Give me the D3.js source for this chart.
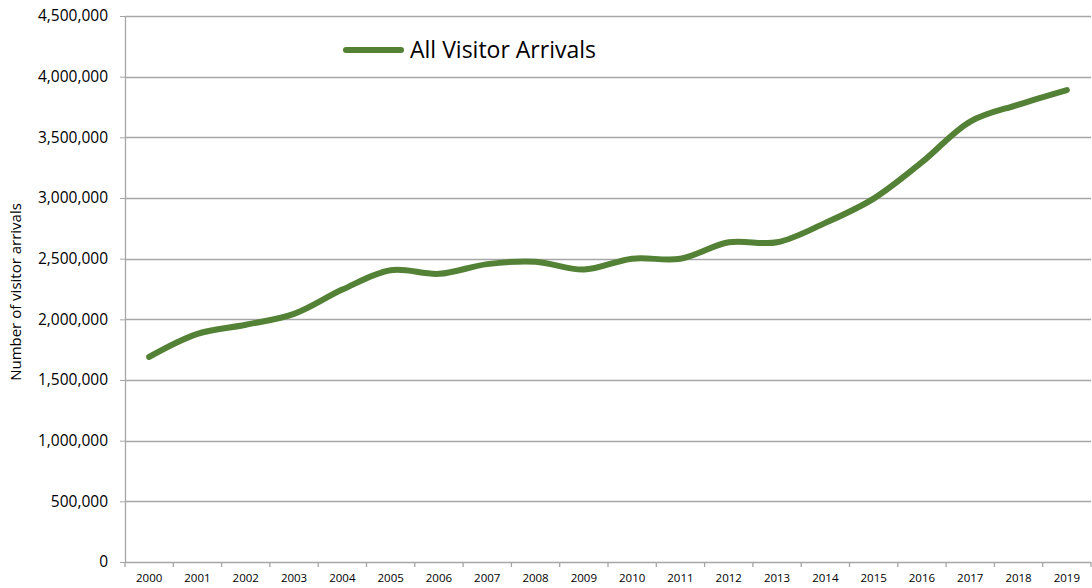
<!DOCTYPE html>
<html>
<head>
<meta charset="utf-8">
<script src="https://cdn.jsdelivr.net/npm/d3@7"></script>
<style>
  body { margin: 0; background: #fff; }
  text { font-family: "Open Sans", "Liberation Sans", sans-serif; fill: #000; }
</style>
</head>
<body>
<svg id="chart" width="1092" height="588"></svg>
<script>
const years = ["2000", "2001", "2002", "2003", "2004", "2005", "2006", "2007", "2008", "2009",
  "2010", "2011", "2012", "2013", "2014", "2015", "2016", "2017", "2018", "2019"];
const arrivals = [1690000, 1880000, 1955000, 2045000, 2245000, 2405000, 2375000, 2455000, 2475000, 2410000,
  2500000, 2500000, 2635000, 2635000, 2795000, 2995000, 3295000, 3630000, 3770000, 3890000];
const yTicks = [0, 500000, 1000000, 1500000, 2000000, 2500000, 3000000, 3500000, 4000000, 4500000];
const seriesName = "All Visitor Arrivals";

const svg = d3.select("#chart");
const margin = { left: 125, right: 1, top: 16, bottom: 26 };
const width = 1092, height = 588;
const lineColor = "#538135";
const gridColor = "#a6a6a6";

const x = d3.scaleBand().domain(years).range([margin.left, width - margin.right]);
const y = d3.scaleLinear().domain([0, 4500000]).range([height - margin.bottom, margin.top]);

// y ticks and labels
const yAxis = svg.append("g")
  .attr("transform", `translate(${margin.left},0)`)
  .call(d3.axisLeft(y).tickValues(yTicks).tickSize(5).tickPadding(12).tickFormat(d3.format(",")));
yAxis.select(".domain").remove();
yAxis.selectAll("line").attr("stroke", gridColor);
yAxis.selectAll("text").style("font-size", "15.5px");

// horizontal gridlines
svg.append("g").selectAll("line")
  .data(yTicks)
  .join("line")
  .attr("x1", margin.left)
  .attr("x2", width - margin.right)
  .attr("y1", d => Math.round(y(d)) + 0.5)
  .attr("y2", d => Math.round(y(d)) + 0.5)
  .attr("stroke", gridColor)
  .attr("stroke-width", 1.3);

// y axis line
svg.append("line")
  .attr("x1", margin.left + 0.5).attr("x2", margin.left + 0.5)
  .attr("y1", margin.top).attr("y2", y(0))
  .attr("stroke", gridColor).attr("stroke-width", 1.3);

// x axis: ticks between categories
const xg = svg.append("g").attr("transform", `translate(0,${y(0)})`);
xg.selectAll("line")
  .data(years.concat(["end"]))
  .join("line")
  .attr("x1", (d, i) => i < years.length ? x(d) : x.range()[1])
  .attr("x2", (d, i) => i < years.length ? x(d) : x.range()[1])
  .attr("y1", 0).attr("y2", 5)
  .attr("stroke", gridColor).attr("stroke-width", 1.3);
xg.selectAll("text")
  .data(years)
  .join("text")
  .attr("x", d => x(d) + x.bandwidth() / 2)
  .attr("y", 20)
  .attr("text-anchor", "middle")
  .style("font-size", "11.5px")
  .text(d => d);

// y axis title
svg.append("text")
  .attr("transform", `translate(21,${(margin.top + y(0)) / 2 + 3}) rotate(-90)`)
  .attr("text-anchor", "middle")
  .style("font-size", "15px")
  .text("Number of visitor arrivals");

// the series
const line = d3.line()
  .x((d, i) => x(years[i]) + x.bandwidth() / 2)
  .y(d => y(d))
  .curve(d3.curveCatmullRom.alpha(0.5));

svg.append("path")
  .datum(arrivals)
  .attr("d", line)
  .attr("fill", "none")
  .attr("stroke", lineColor)
  .attr("stroke-width", 6)
  .attr("stroke-linecap", "round")
  .attr("stroke-linejoin", "round");

// legend
const lg = svg.append("g").attr("transform", "translate(346,50)");
lg.append("line")
  .attr("x1", 0).attr("x2", 55)
  .attr("stroke", lineColor).attr("stroke-width", 6).attr("stroke-linecap", "round");
lg.append("text")
  .attr("x", 64).attr("y", 8)
  .style("font-size", "23px")
  .text(seriesName);
</script>
</body>
</html>
